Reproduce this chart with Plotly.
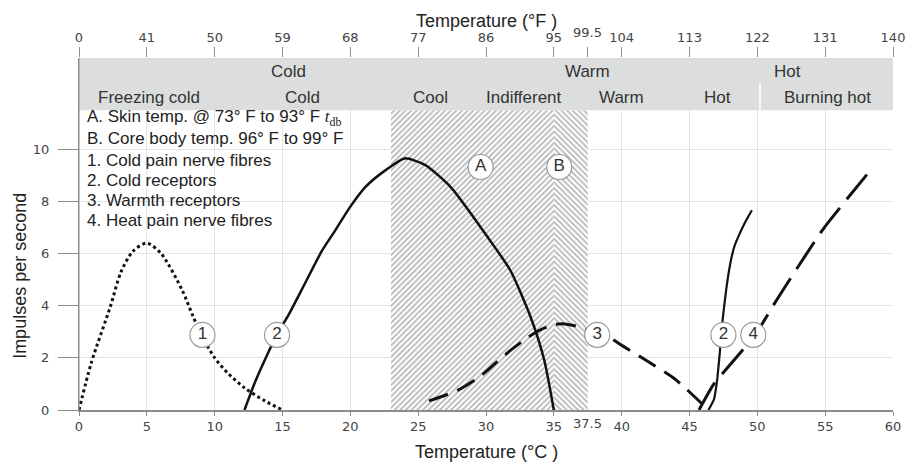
import plotly.graph_objects as go

# ---------------- data (°C, impulses per second) ----------------
cold_pain_x = [0, 0.9, 2.3, 3.1, 4.0, 5.0, 6.05, 7.6, 8.4, 9.1, 10.0, 11.0, 12.2, 13.7, 15.0]
cold_pain_y = [0, 1.8, 3.95, 5.3, 6.1, 6.4, 6.0, 4.6, 3.6, 2.8, 2.0, 1.4, 0.85, 0.35, 0]

cold_rec_x = [12.2, 13.0, 13.9, 14.6, 15.5, 16.7, 17.9, 18.9, 20.0, 21.1, 22.6, 24.0, 25.5, 27.4, 30.3, 31.8, 33.3, 34.3, 35.0]
cold_rec_y = [0, 1.1, 2.15, 2.9, 3.7, 4.9, 6.1, 6.9, 7.8, 8.55, 9.2, 9.65, 9.4, 8.55, 6.5, 5.35, 3.55, 1.9, 0]

cold_rec_hot_x = [46.4, 46.8, 47.05, 47.25, 47.45, 47.7, 48.0, 48.3, 48.6, 49.1, 49.6]
cold_rec_hot_y = [0, 0.4, 1.2, 2.3, 3.5, 4.6, 5.6, 6.26, 6.65, 7.2, 7.66]

warm_rec_x = [25.8, 27.9, 29.6, 30.6, 31.6, 32.8, 33.9, 35.0, 35.8, 36.6, 38.2, 39.2, 40.1, 41.5, 43.9, 45.9]
warm_rec_y = [0.35, 0.75, 1.3, 1.75, 2.2, 2.68, 3.05, 3.28, 3.3, 3.22, 2.95, 2.75, 2.45, 2.0, 1.2, 0.25]

heat_pain_x = [45.7, 46.8, 49.8, 51.4, 54.8, 58.5]
heat_pain_y = [0, 1.0, 2.85, 4.2, 6.9, 9.3]

skin_range_c = [23, 35]
core_range_c = [35, 37.5]

c_ticks = [0, 5, 10, 15, 20, 25, 30, 35, 40, 45, 50, 55, 60]
f_tick_labels = ['0', '41', '50', '59', '68', '77', '86', '95', '104', '113', '122', '131', '140']
y_ticks = [0, 2, 4, 6, 8, 10]

circle_labels = ['1', '2', '3', '2', '4', 'A', 'B']
circle_x = [9.1, 14.6, 38.2, 47.5, 49.7, 29.6, 35.4]
circle_y = [2.88, 2.88, 2.88, 2.88, 2.88, 9.32, 9.32]

legend_lines = [
    "A. Skin temp. @ 73° F to 93° F <span style='font-family:Liberation Serif'><i>t</i><sub>db</sub></span>",
    "B. Core body temp. 96° F to 99° F",
    "1. Cold pain nerve fibres",
    "2. Cold receptors",
    "3. Warmth receptors",
    "4. Heat pain nerve fibres",
]

band_top = ['Cold', 'Warm', 'Hot']
band_bottom = ['Freezing cold', 'Cold', 'Cool', 'Indifferent', 'Warm', 'Hot', 'Burning hot']

# ---------------- styling ----------------
TXT = 'Liberation Sans, Arial, sans-serif'
TICKF = 'DejaVu Sans, Verdana, sans-serif'
INK = '#111111'
GRAY = '#8c8c8c'
GRID = '#e3e3e3'
BAND = '#dcdedd'
Y_TOP = 13.5
Y_BAND = 11.5

fig = go.Figure()

# hatched regions
for rng, pat in [(skin_range_c, '/'), (core_range_c, '\\')]:
    fig.add_trace(go.Scatter(
        x=[rng[0], rng[1], rng[1], rng[0], rng[0]],
        y=[0, 0, Y_BAND, Y_BAND, 0],
        mode='lines', fill='toself', line=dict(width=0, color='rgba(0,0,0,0)'),
        fillcolor='white',
        fillpattern=dict(shape=pat, fgcolor='#6e6e6e', bgcolor='#ffffff', size=4, solidity=0.45),
        hoverinfo='skip'))

# curves
fig.add_trace(go.Scatter(x=cold_pain_x, y=cold_pain_y, mode='lines',
                         line=dict(color=INK, width=3, dash='3px,3px', shape='spline', smoothing=0.8)))
fig.add_trace(go.Scatter(x=cold_rec_x, y=cold_rec_y, mode='lines',
                         line=dict(color=INK, width=2.5, shape='spline', smoothing=0.6)))
fig.add_trace(go.Scatter(x=cold_rec_hot_x, y=cold_rec_hot_y, mode='lines',
                         line=dict(color=INK, width=2.2, shape='spline', smoothing=0.3)))
fig.add_trace(go.Scatter(x=warm_rec_x, y=warm_rec_y, mode='lines',
                         line=dict(color=INK, width=3, dash='20px,10px', shape='spline', smoothing=0.6)))
fig.add_trace(go.Scatter(x=heat_pain_x, y=heat_pain_y, mode='lines',
                         line=dict(color=INK, width=3, dash='32px,11px', shape='spline', smoothing=0.5)))

# circled labels
fig.add_trace(go.Scatter(x=circle_x, y=circle_y, mode='markers+text', text=circle_labels,
                         textposition='middle center',
                         textfont=dict(family=TXT, size=17, color='#333333'),
                         marker=dict(size=25, color='white', line=dict(color='#9a9a9a', width=1.2)),
                         hoverinfo='skip'))

# dummy trace for top axis
fig.add_trace(go.Scatter(x=[0, 60], y=[0, 0], xaxis='x2', mode='markers',
                         marker=dict(opacity=0), hoverinfo='skip'))

# header band
fig.add_shape(type='rect', xref='x', yref='y', x0=0, x1=60, y0=Y_BAND, y1=Y_TOP,
              fillcolor=BAND, line=dict(width=0), layer='above')
fig.add_shape(type='line', xref='paper', yref='paper', x0=0.8366, x1=0.8366, y0=0.852, y1=0.93,
              line=dict(color='white', width=1.5), layer='above')
fig.add_shape(type='line', xref='x', yref='y', x0=0, x1=0, y0=0, y1=Y_TOP,
              line=dict(color=GRAY, width=1), layer='above')

annotations = []
top_pos = [0.2568, 0.6253, 0.8698]
bot_pos = [0.0860, 0.2740, 0.4324, 0.5467, 0.6670, 0.7850, 0.9200]
for t, xp in zip(band_top, top_pos):
    annotations.append(dict(text=t, x=xp, y=0.963, xref='paper', yref='paper', showarrow=False,
                            xanchor='center', yanchor='middle',
                            font=dict(family=TXT, size=17, color='#333333')))
for t, xp in zip(band_bottom, bot_pos):
    annotations.append(dict(text=t, x=xp, y=0.889, xref='paper', yref='paper', showarrow=False,
                            xanchor='center', yanchor='middle',
                            font=dict(family=TXT, size=17, color='#333333')))

leg_y = [0.8295, 0.7727, 0.7100, 0.6530, 0.5940, 0.5370]
for t, yp in zip(legend_lines, leg_y):
    annotations.append(dict(text=t, x=0.0074, y=yp, xref='paper', yref='paper', showarrow=False,
                            xanchor='left', yanchor='middle',
                            font=dict(family=TXT, size=17, color='#222222')))

# raised 37.5 / 99.5 tick labels
annotations.append(dict(text='37.5', x=core_range_c[1], y=0, xref='x', yref='y', showarrow=False,
                        yanchor='top', yshift=-4, xanchor='center',
                        font=dict(family=TICKF, size=13, color='#444444')))
annotations.append(dict(text='99.5', x=core_range_c[1], y=Y_TOP, xref='x', yref='y', showarrow=False,
                        yanchor='bottom', yshift=16, xanchor='center',
                        font=dict(family=TICKF, size=13, color='#444444')))

# axis titles
annotations.append(dict(text='Temperature (°F )', x=0.5, y=1.105, xref='paper', yref='paper',
                        showarrow=False, xanchor='center', yanchor='middle',
                        font=dict(family=TXT, size=18, color='#222222')))
annotations.append(dict(text='Temperature (°C )', x=0.5, y=-0.12, xref='paper', yref='paper',
                        showarrow=False, xanchor='center', yanchor='middle',
                        font=dict(family=TXT, size=18, color='#222222')))
annotations.append(dict(text='Impulses per second', x=-0.0725, y=0.381, xref='paper', yref='paper',
                        showarrow=False, textangle=-90, xanchor='center', yanchor='middle',
                        font=dict(family=TXT, size=18, color='#222222')))

fig.update_layout(
    width=911, height=464,
    margin=dict(l=79, r=18, t=58, b=54),
    paper_bgcolor='white', plot_bgcolor='white',
    showlegend=False,
    annotations=annotations,
    xaxis=dict(range=[0, 60], tickmode='array', tickvals=c_ticks,
               ticktext=[str(v) for v in c_ticks], automargin=False,
               showgrid=True, gridcolor=GRID, gridwidth=1, zeroline=False,
               showline=True, linecolor=GRAY, linewidth=1.5,
               ticks='outside', ticklen=4, tickcolor=GRAY,
               tickfont=dict(family=TICKF, size=13, color='#444444')),
    xaxis2=dict(range=[0, 60], overlaying='x', side='top', anchor='y', tickmode='array',
                tickvals=c_ticks + [core_range_c[1]], ticktext=f_tick_labels + [''],
                automargin=False,
                showgrid=False, zeroline=False, showline=False,
                ticks='outside', ticklen=10, tickcolor=GRAY,
                tickfont=dict(family=TICKF, size=13, color='#444444')),
    yaxis=dict(range=[0, Y_TOP], tickmode='array', tickvals=y_ticks, automargin=False,
               showgrid=True, gridcolor=GRID, zeroline=False,
               showline=True, linecolor=GRAY, linewidth=1,
               ticks='outside', ticklen=20, tickcolor=GRAY,
               ticklabelstandoff=6,
               tickfont=dict(family=TICKF, size=13, color='#444444')),
)

fig.write_html('out.html', config={'displayModeBar': False},
               post_script="document.body.style.margin='0';")
